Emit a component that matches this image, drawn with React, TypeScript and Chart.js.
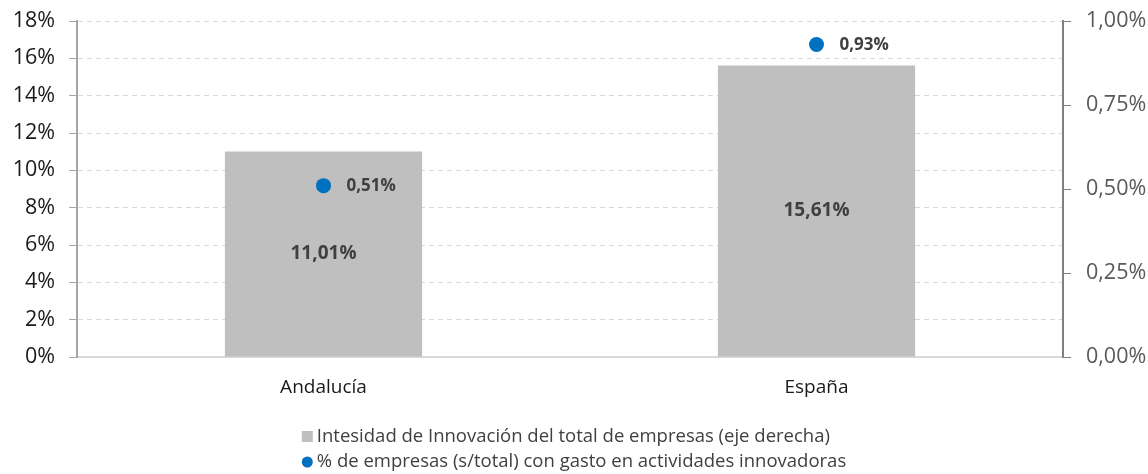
import React, { useEffect, useRef } from "react";
import { Chart, registerables } from "chart.js";

Chart.register(...registerables);

const categories = ["Andalucía", "España"];
const barValues = [11.01, 15.61];
const pointValues = [0.51, 0.93];
const barLabel = "Intesidad de Innovación del total de empresas (eje derecha)";
const pointLabel = "% de empresas (s/total) con gasto en actividades innovadoras";

const FONT = "'Open Sans'";
const fmt = (v: number, d: number) => v.toFixed(d).replace(".", ",") + "%";

const labelPlugin = {
  id: "valueLabels",
  afterDatasetsDraw(chart: any) {
    const ctx = chart.ctx;
    ctx.save();
    ctx.fillStyle = "#404040";
    const barMeta = chart.getDatasetMeta(0);
    ctx.font = `bold 19px ${FONT}`;
    ctx.textAlign = "center";
    ctx.textBaseline = "middle";
    barMeta.data.forEach((el: any, i: number) => {
      ctx.fillText(fmt(barValues[i], 2), el.x, (el.y + el.base) / 2);
    });
    const ptMeta = chart.getDatasetMeta(1);
    ctx.font = `bold 17px ${FONT}`;
    ctx.textAlign = "left";
    ptMeta.data.forEach((el: any, i: number) => {
      ctx.fillText(fmt(pointValues[i], 2), el.x + 23, el.y + 1);
    });
    ctx.restore();
  },
};

const legendPlugin = {
  id: "customLegend",
  afterDraw(chart: any) {
    const ctx = chart.ctx;
    ctx.save();
    ctx.font = `18.5px ${FONT}`;
    ctx.textBaseline = "middle";
    ctx.textAlign = "left";
    const items = [
      { text: barLabel, type: "box", color: "#BFBFBF" },
      { text: pointLabel, type: "dot", color: "#0070C0" },
    ];
    const widths = items.map((it) => ctx.measureText(it.text).width + 15);
    const blockW = Math.max(...widths);
    const x0 = chart.width / 2 - blockW / 2;
    const ys = [437, 462];
    items.forEach((it, i) => {
      const y = ys[i];
      ctx.fillStyle = it.color;
      if (it.type === "box") {
        ctx.fillRect(x0, y - 6, 11, 11);
      } else {
        ctx.beginPath();
        ctx.arc(x0 + 5.5, y, 5.5, 0, Math.PI * 2);
        ctx.fill();
      }
      ctx.fillStyle = "#404040";
      ctx.fillText(it.text, x0 + 15, y);
    });
    ctx.restore();
  },
};

export default function App() {
  const ref = useRef<HTMLCanvasElement>(null);
  useEffect(() => {
    if (!ref.current) return;
    const chart = new Chart(ref.current, {
      type: "bar",
      data: {
        labels: categories,
        datasets: [
          {
            type: "bar",
            label: barLabel,
            data: barValues,
            backgroundColor: "#BFBFBF",
            barPercentage: 0.4,
            categoryPercentage: 1,
            yAxisID: "y",
            order: 2,
          },
          {
            type: "line",
            label: pointLabel,
            data: pointValues,
            showLine: false,
            pointRadius: 7.5,
            pointBackgroundColor: "#0070C0",
            pointBorderColor: "#0070C0",
            pointBorderWidth: 0,
            yAxisID: "y1",
            order: 1,
          } as any,
        ],
      },
      options: {
        animation: false,
        responsive: false,
        maintainAspectRatio: false,
        layout: { padding: { top: 21, bottom: 70, left: 0, right: 0 } },
        plugins: { legend: { display: false }, tooltip: { enabled: false } },
        scales: {
          x: {
            grid: { display: false },
            border: { color: "#D9D9D9", width: 2 },
            ticks: { color: "#1a1a1a", font: { family: FONT, size: 19 }, padding: 11 },
            afterFit: (s: any) => {
              s.height = 47;
              s.paddingLeft = 0;
              s.paddingRight = 0;
            },
          },
          y: {
            position: "left",
            min: 0,
            max: 18,
            ticks: {
              stepSize: 2,
              color: "#1a1a1a",
              font: { family: FONT, size: 21.5 },
              padding: 14,
              callback: (v: any) => v + "%",
            },
            grid: {
              color: "#D9D9D9",
              tickBorderDash: [],
              tickColor: "#A6A6A6",
              tickLength: 8,
              lineWidth: 1,
            } as any,
            border: { color: "#A6A6A6", width: 2, dash: [5, 4] } as any,
            afterFit: (s: any) => {
              s.width = 77;
              s.paddingTop = 0;
              s.paddingBottom = 0;
            },
          },
          y1: {
            position: "right",
            min: 0,
            max: 1,
            ticks: {
              stepSize: 0.25,
              color: "#595959",
              font: { family: FONT, size: 21.5 },
              padding: 15,
              callback: (v: any) => fmt(Number(v), 2),
            },
            grid: {
              drawOnChartArea: false,
              tickColor: "#808080",
              tickLength: 8,
            },
            border: { color: "#808080", width: 2 },
            afterFit: (s: any) => {
              s.width = 85;
              s.paddingTop = 0;
              s.paddingBottom = 0;
            },
          },
        },
      },
      plugins: [labelPlugin, legendPlugin],
    });
    return () => chart.destroy();
  }, []);
  return (
    <div style={{ position: "absolute", left: 0, top: 0, width: 1148, height: 474, background: "#fff" }}>
      <canvas ref={ref} width={1148} height={474} style={{ width: 1148, height: 474 }} />
    </div>
  );
}
